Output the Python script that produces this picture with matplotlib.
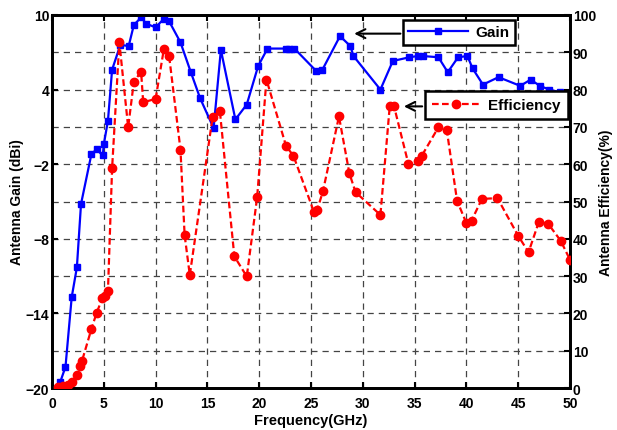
import matplotlib
matplotlib.use("Agg")
import matplotlib.pyplot as plt
from matplotlib.ticker import FixedLocator

plt.rcParams['font.family'] = ['Liberation Sans', 'DejaVu Sans']
plt.rcParams['font.weight'] = 'bold'

# Gain (dBi) vs frequency (GHz)
gain_freq = [0.8, 1.3, 1.9, 2.4, 2.8, 3.8, 4.3, 4.9, 5.0, 5.4, 5.8, 6.6, 7.4, 7.9, 8.6,
             9.1, 10.0, 10.8, 11.3, 12.4, 13.4, 14.3, 15.6, 16.3, 17.7, 18.8, 19.9, 20.8,
             22.6, 22.9, 23.4, 25.5, 26.1, 27.8, 28.8, 29.1, 31.7, 32.9, 34.5, 35.3, 35.8,
             37.3, 38.2, 39.2, 40.1, 40.6, 41.6, 43.1, 45.2, 46.2, 47.1, 48.0, 49.0, 50.0]
gain_db = [-19.5, -18.3, -12.7, -10.3, -5.2, -1.2, -0.8, -1.3, -0.4, 1.5, 5.6, 7.6, 7.5, 9.2, 9.8,
           9.3, 9.0, 9.7, 9.5, 7.8, 5.4, 3.3, 0.9, 7.2, 1.6, 2.8, 5.9, 7.3,
           7.3, 7.3, 7.3, 5.5, 5.6, 8.3, 7.5, 6.7, 4.0, 6.3, 6.6, 6.7, 6.7,
           6.6, 5.4, 6.6, 6.7, 5.7, 4.4, 5.0, 4.3, 4.8, 4.3, 4.0, 3.8, 3.6]

# Efficiency (%) vs frequency (GHz)
eff_freq = [0.6, 1.1, 1.5, 1.9, 2.4, 2.7, 2.9, 3.8, 4.3, 4.85, 5.1, 5.4, 5.8, 6.5, 7.35,
            7.9, 8.6, 8.8, 10.0, 10.8, 11.3, 12.4, 12.8, 13.3, 15.5, 16.2, 17.6, 18.8,
            19.8, 20.7, 22.6, 23.3, 25.3, 25.6, 26.15, 27.7, 28.7, 29.3, 31.7, 32.6, 33.0,
            34.4, 35.3, 35.7, 37.3, 38.1, 39.1, 40.0, 40.5, 41.5, 43.0, 45.0, 46.0, 47.0,
            47.9, 49.1, 50.0]
eff_pct = [0.2, 0.5, 0.8, 1.5, 3.5, 6.0, 7.3, 15.8, 20.1, 24.0, 24.7, 26.0, 58.9, 92.7, 69.9,
           82.1, 84.8, 76.6, 77.5, 90.9, 89.1, 63.9, 41.0, 30.3, 72.6, 74.3, 35.3, 29.9,
           51.1, 82.7, 64.8, 62.3, 47.1, 47.8, 52.7, 72.8, 57.6, 52.5, 46.4, 75.5, 75.7,
           60.1, 60.9, 62.3, 69.9, 69.3, 50.2, 44.2, 44.9, 50.7, 50.9, 40.8, 36.4, 44.6,
           44.0, 39.5, 34.4]

x_ticks = [0, 5, 10, 15, 20, 25, 30, 35, 40, 45, 50]
gain_ticks = [-20, -14, -8, -2, 4, 10]
gain_minor = [-17, -11, -5, 1, 7]
eff_ticks = [0, 10, 20, 30, 40, 50, 60, 70, 80, 90, 100]

fig = plt.figure(figsize=(6.17, 4.31), dpi=100)
ax = fig.add_axes([0.0843, 0.0974, 0.8395, 0.8655])
ax2 = ax.twinx()

fs = 10
grid_kw = dict(color='#444444', linestyle=(0, (5, 4)), linewidth=0.9)

ax.set_xlim(0, 50)
ax.set_ylim(-20, 10)
ax.set_xticks(x_ticks)
ax.set_yticks(gain_ticks)
ax.yaxis.set_minor_locator(FixedLocator(gain_minor))
ax.grid(True, axis='x', which='major', **grid_kw)
ax.grid(True, axis='y', which='both', **grid_kw)
ax.set_axisbelow(True)
ax.tick_params(axis='both', which='major', direction='in', length=4, width=1.5,
               labelsize=fs, pad=2)
ax.tick_params(axis='x', which='major', pad=6)
ax.tick_params(axis='y', which='minor', length=0)
ax.tick_params(axis='x', top=True, direction='in')

gain_line, = ax.plot(gain_freq, gain_db, color='#0000ff', linewidth=1.6, marker='s',
                     markersize=5, markeredgecolor='#0000ff', zorder=3)

ax2.set_ylim(0, 100)
ax2.set_yticks(eff_ticks)
ax2.tick_params(axis='y', direction='in', length=4, width=1.5, labelsize=fs, pad=2)
eff_line, = ax2.plot(eff_freq, eff_pct, color='#ff0000', linewidth=1.6,
                     linestyle=(0, (3, 1.5)), marker='o', markersize=6, zorder=3)

for a in (ax, ax2):
    for s in a.spines.values():
        s.set_linewidth(2)
        s.set_color('black')
    for lab in a.get_xticklabels() + a.get_yticklabels():
        lab.set_fontweight('bold')

ax.set_xlabel('Frequency(GHz)', fontsize=10.5, fontweight='bold', labelpad=2)
ax.set_ylabel('Antenna Gain (dBi)', fontsize=10, fontweight='bold', labelpad=1)
ax2.set_ylabel('Antenna Efficiency(%)', fontsize=10, fontweight='bold', labelpad=2)

leg1 = ax2.legend([gain_line], ['Gain'], loc='upper left',
                  bbox_to_anchor=(403 / 617, 1 - 21 / 431), bbox_transform=fig.transFigure,
                  fancybox=False, framealpha=1, edgecolor='black', borderpad=0.35,
                  handlelength=3.9, handletextpad=0.5, borderaxespad=0,
                  prop={'weight': 'bold', 'size': 11})
leg1.get_frame().set_linewidth(1.8)
ax2.add_artist(leg1)
leg2 = ax2.legend([eff_line], ['Efficiency'], loc='upper left',
                  bbox_to_anchor=(425 / 617, 1 - 92 / 431), bbox_transform=fig.transFigure,
                  fancybox=False, framealpha=1, edgecolor='black', borderpad=0.45,
                  handlelength=3.2, handletextpad=0.5, borderaxespad=0,
                  prop={'weight': 'bold', 'size': 11})
leg2.get_frame().set_linewidth(1.8)

arrow_kw = dict(arrowstyle='->', color='black', lw=1.5, mutation_scale=16)
ax.annotate('', xy=(28.9, 8.5), xytext=(33.9, 8.5), arrowprops=arrow_kw, zorder=5)
ax2.annotate('', xy=(33.7, 75.5), xytext=(36.0, 75.5), arrowprops=arrow_kw, zorder=5)

fig.savefig('out.png', dpi=100)
